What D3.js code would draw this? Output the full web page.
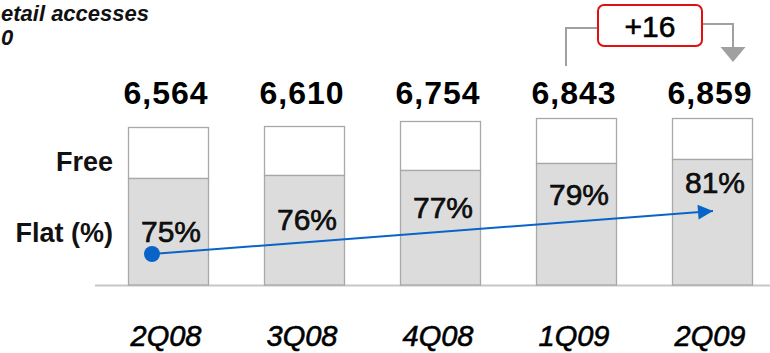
<!DOCTYPE html>
<html>
<head>
<meta charset="utf-8">
<script src="https://cdn.jsdelivr.net/npm/d3@7"></script>
<style>
    body { margin: 0; background: #fff; }
    svg { display: block; font-family: "Liberation Sans", Arial, sans-serif; }
</style>
</head>
<body>
<div id="chart"></div>
<script>
// Retail accesses per quarter (thousands) and flat-rate share
const quarters = ['2Q08', '3Q08', '4Q08', '1Q09', '2Q09'];
const totals = [6564, 6610, 6754, 6843, 6859];
const flatPct = [75, 76, 77, 79, 81];
const titleLines = ['etail accesses', '0'];

const width = 770, height = 353;

const svg = d3.select('#chart').append('svg')
    .attr('width', width)
    .attr('height', height);

// Scales: bar centres and value axis (axis is broken, does not start at 0)
const x = d3.scalePoint().domain(quarters).range([168, 712]);
const barW = 80;
const y = d3.scaleLinear().domain([1500, d3.max(totals)]).range([285, 118]);

// Trend arrow scale (flat %)
const trendY = d3.scaleLinear().domain([d3.min(flatPct), d3.max(flatPct)]).range([254, 211]);
// Percent labels sit on their own sloping line
const labelY = d3.scaleLinear().domain([0, quarters.length - 1]).range([242, 193]);

const data = quarters.map((q, i) => ({
    q, total: totals[i], pct: flatPct[i], flat: totals[i] * flatPct[i] / 100, i
}));

// medium-weight text: regular face with a thin outline
const semi = sel => sel.style('stroke', '#000').style('stroke-width', '0.6px');

// Title (starts cut off in the original)
svg.append('g').selectAll('text')
    .data(titleLines)
    .join('text')
    .attr('x', 1)
    .attr('y', (d, i) => 21 + i * 24)
    .style('font-size', '22px')
    .style('font-weight', 'bold')
    .style('font-style', 'italic')
    .style('fill', '#111')
    .text(d => d);

// Baseline
svg.append('line')
    .attr('x1', 95).attr('x2', width)
    .attr('y1', y.range()[0] + 0.5).attr('y2', y.range()[0] + 0.5)
    .attr('stroke', '#c8c8c8')
    .attr('stroke-width', 2);

const bars = svg.append('g').selectAll('g')
    .data(data)
    .join('g');

// Free part (top)
bars.append('rect')
    .attr('x', d => x(d.q) - barW / 2 + 0.5)
    .attr('y', d => Math.round(y(d.total)) + 0.5)
    .attr('width', barW)
    .attr('height', d => Math.round(y(d.flat)) - Math.round(y(d.total)))
    .attr('fill', '#fff')
    .attr('stroke', '#a8a8a8')
    .attr('stroke-width', 1.3);

// Flat part (bottom)
bars.append('rect')
    .attr('x', d => x(d.q) - barW / 2 + 0.5)
    .attr('y', d => Math.round(y(d.flat)) + 0.5)
    .attr('width', barW)
    .attr('height', d => y.range()[0] - Math.round(y(d.flat)) - 0.5)
    .attr('fill', '#dcdcdc')
    .attr('stroke', '#a8a8a8')
    .attr('stroke-width', 1.3);

// Totals
bars.append('text')
    .attr('x', d => x(d.q) - 2)
    .attr('y', 104)
    .attr('text-anchor', 'middle')
    .style('font-size', '32px')
    .style('font-weight', 'bold')
    .style('letter-spacing', '1px')
    .style('fill', '#000')
    .text(d => d3.format(',')(d.total));

// Category labels
bars.append('text')
    .attr('x', d => x(d.q) - 2)
    .attr('y', 346)
    .attr('text-anchor', 'middle')
    .style('font-size', '29px')
    .style('font-style', 'italic')
    .style('fill', '#000')
    .call(semi)
    .text(d => d.q);

// Trend arrow
const defs = svg.append('defs');
defs.append('marker')
    .attr('id', 'arrow')
    .attr('viewBox', '0 0 10 10')
    .attr('refX', 10).attr('refY', 5)
    .attr('markerUnits', 'userSpaceOnUse')
    .attr('markerWidth', 16).attr('markerHeight', 15)
    .attr('orient', 'auto')
    .append('path')
    .attr('d', 'M0,0 L10,5 L0,10 Z')
    .attr('fill', '#0a64c8');

const first = data[0], last = data[data.length - 1];
svg.append('line')
    .attr('x1', x(first.q) - 16)
    .attr('y1', trendY(first.pct))
    .attr('x2', x(last.q) + 1)
    .attr('y2', trendY(last.pct))
    .attr('stroke', '#0a64c8')
    .attr('stroke-width', 2)
    .attr('marker-end', 'url(#arrow)');

svg.append('circle')
    .attr('cx', x(first.q) - 16)
    .attr('cy', trendY(first.pct))
    .attr('r', 8)
    .attr('fill', '#0a64c8');

// Percent labels
bars.append('text')
    .attr('x', d => x(d.q) + 3)
    .attr('y', d => labelY(d.i))
    .attr('text-anchor', 'middle')
    .style('font-size', '30px')
    .style('fill', '#111')
    .call(semi)
    .text(d => d.pct + '%');

// Series labels on the left
svg.append('text')
    .attr('x', 113).attr('y', 171)
    .attr('text-anchor', 'end')
    .style('font-size', '27px')
    .style('font-weight', 'bold')
    .style('fill', '#111')
    .text('Free');

svg.append('text')
    .attr('x', 113).attr('y', 242)
    .attr('text-anchor', 'end')
    .style('font-size', '27px')
    .style('font-weight', 'bold')
    .style('fill', '#111')
    .text('Flat (%)');

// Change bracket between the last two quarters
const prev = data[data.length - 2];
const delta = last.total - prev.total;
const bx0 = x(prev.q) - 10, bx1 = x(last.q) + 21;
const boxL = 598, boxR = 702;

const bracket = svg.append('g')
    .attr('fill', 'none')
    .attr('stroke', '#a0a0a0')
    .attr('stroke-width', 2);

bracket.append('path')
    .attr('d', `M${bx0},66 V28 H${boxL}`);
bracket.append('path')
    .attr('d', `M${boxR},24 H${bx1} V48`);

svg.append('path')
    .attr('d', `M${bx1 - 12.5},47 L${bx1 + 12.5},47 L${bx1},62 Z`)
    .attr('fill', '#a0a0a0');

svg.append('rect')
    .attr('x', boxL).attr('y', 5)
    .attr('width', boxR - boxL).attr('height', 41)
    .attr('rx', 6)
    .attr('fill', '#fff')
    .attr('stroke', '#e01010')
    .attr('stroke-width', 2);

svg.append('text')
    .attr('x', (boxL + boxR) / 2)
    .attr('y', 37)
    .attr('text-anchor', 'middle')
    .style('font-size', '30px')
    .style('fill', '#000')
    .call(semi)
    .text((delta > 0 ? '+' : '') + delta);
</script>
</body>
</html>
